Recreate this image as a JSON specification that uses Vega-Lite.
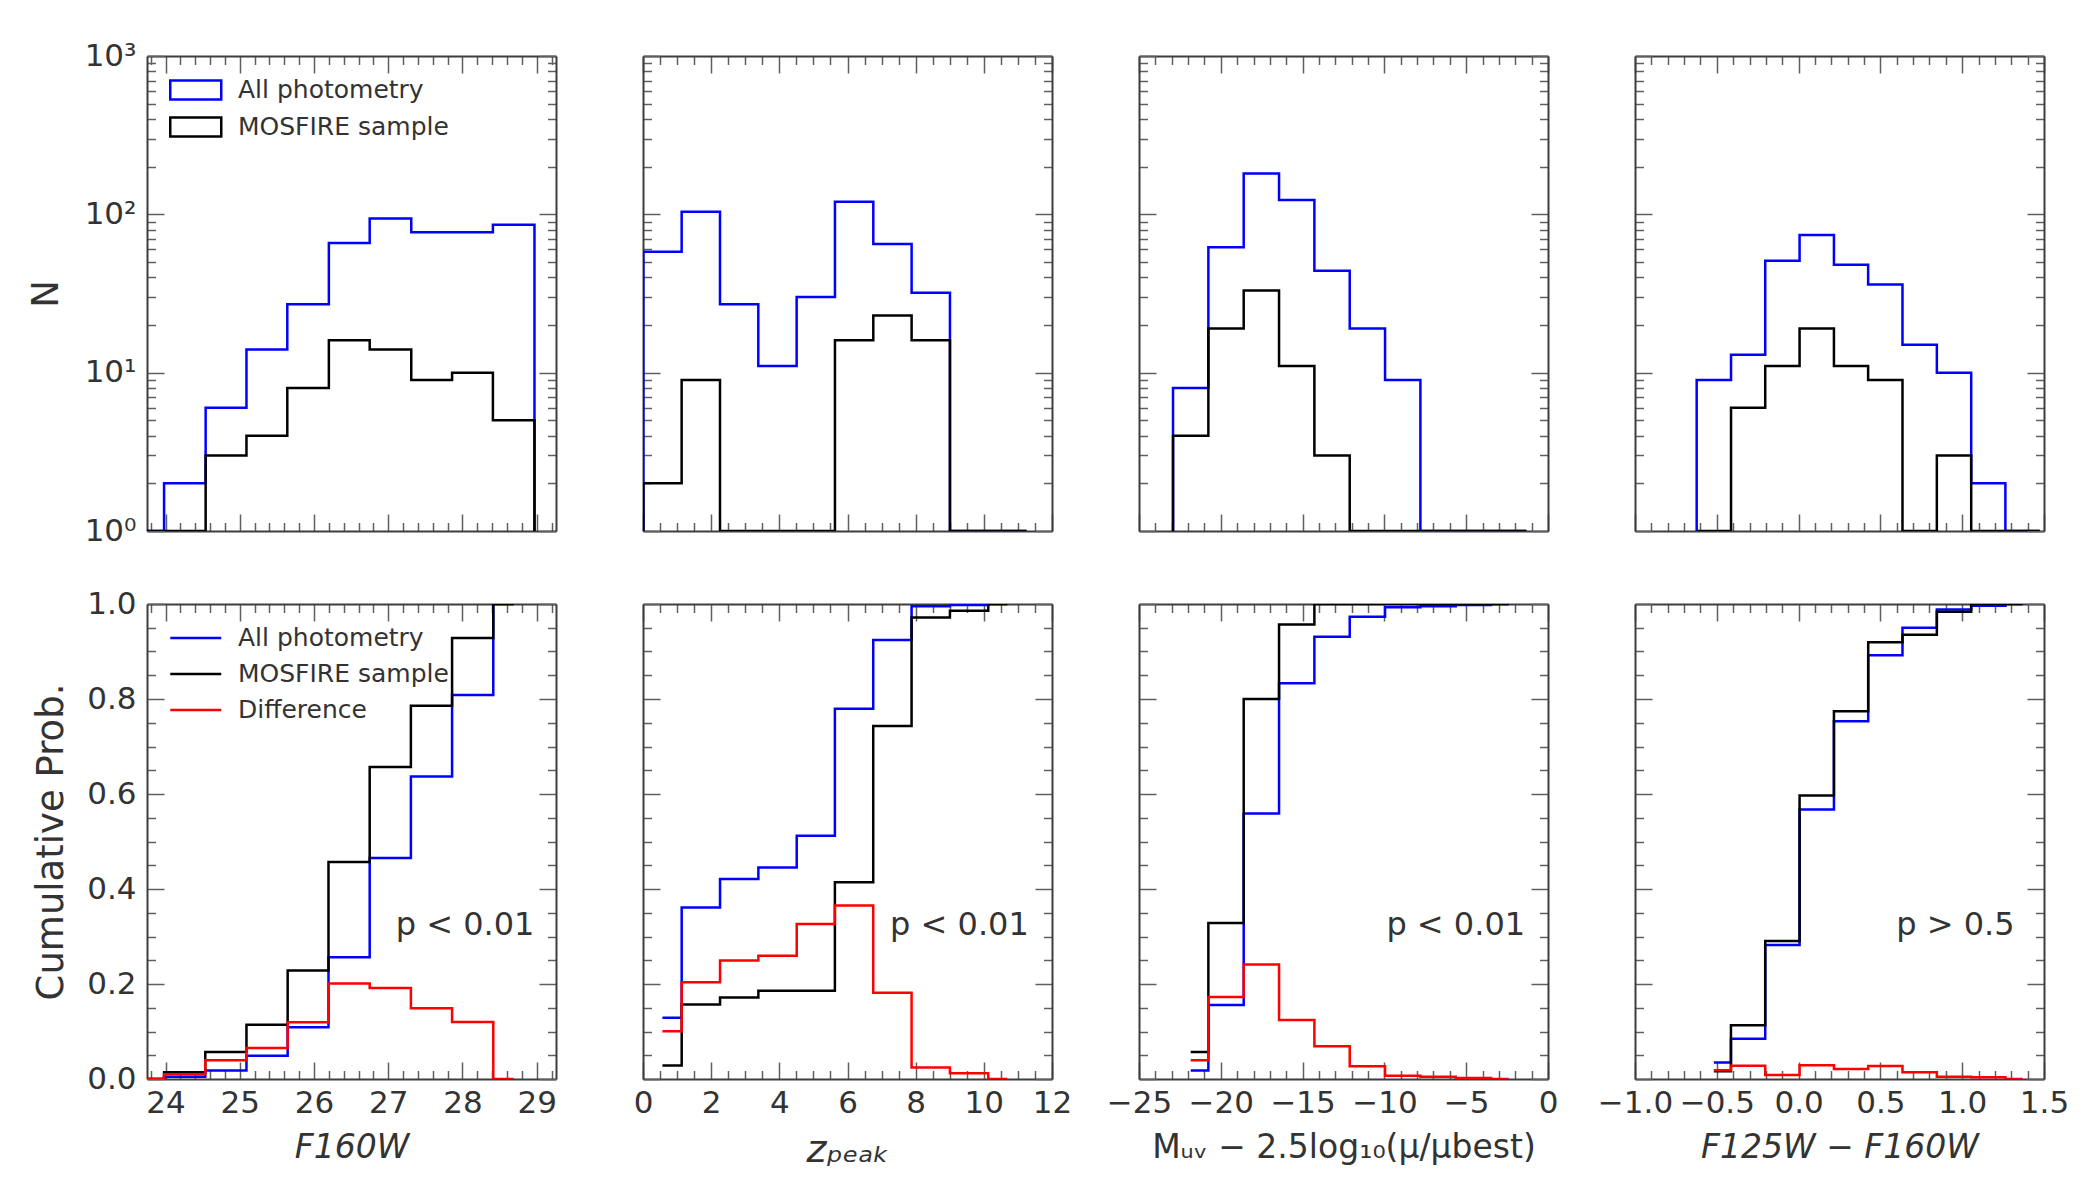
{
  "$schema": "https://vega.github.io/schema/vega-lite/v6.json",
  "background": "white",
  "padding": {"left": 27, "top": 40, "right": 5, "bottom": 5},
  "columns": 4,
  "spacing": {"row": 73, "column": 87},
  "bounds": "flush",
  "resolve": {"scale": {"color": "independent"}, "legend": {"color": "independent"}},
  "config": {
    "font": "DejaVu Sans",
    "view": {"stroke": null},
    "axis": {
      "zindex": 1,
      "grid": false,
      "domainColor": "#3d3d3d",
      "domainWidth": 2,
      "tickColor": "#5f5f5f",
      "tickWidth": 1.5,
      "labelFont": "DejaVu Sans",
      "labelFontSize": 31,
      "labelColor": "#333333",
      "labelFlush": false,
      "labelOverlap": false,
      "labelPadding": 26,
      "titleFont": "DejaVu Sans",
      "titleFontSize": 37,
      "titleColor": "#333333",
      "titleFontWeight": "normal"
    },
    "legend": {"labelFont": "DejaVu Sans", "labelFontSize": 25, "labelColor": "#333333", "labelLimit": 400}
  },
  "datasets": {
    "f160w_hist": [
      {"i": 0, "edge": 23.43, "all": 0, "mosfire": 0},
      {"i": 1, "edge": 23.43, "all": 0, "mosfire": 0},
      {"i": 2, "edge": 23.98, "all": 2, "mosfire": 1},
      {"i": 3, "edge": 24.54, "all": 6, "mosfire": 3},
      {"i": 4, "edge": 25.09, "all": 14, "mosfire": 4},
      {"i": 5, "edge": 25.64, "all": 27, "mosfire": 8},
      {"i": 6, "edge": 26.2, "all": 66, "mosfire": 16},
      {"i": 7, "edge": 26.75, "all": 94, "mosfire": 14},
      {"i": 8, "edge": 27.31, "all": 77, "mosfire": 9},
      {"i": 9, "edge": 27.86, "all": 77, "mosfire": 10},
      {"i": 10, "edge": 28.41, "all": 86, "mosfire": 5},
      {"i": 11, "edge": 28.97, "all": 0, "mosfire": 0}
    ],
    "f160w_cum": [
      {"x": 23.7, "all": 0, "mosfire": 0, "diff": 0},
      {"x": 24.26, "all": 0.0045, "mosfire": 0.0143, "diff": 0.0098},
      {"x": 24.81, "all": 0.0178, "mosfire": 0.0571, "diff": 0.0393},
      {"x": 25.37, "all": 0.049, "mosfire": 0.1143, "diff": 0.0653},
      {"x": 25.92, "all": 0.1091, "mosfire": 0.2286, "diff": 0.1195},
      {"x": 26.47, "all": 0.2561, "mosfire": 0.4571, "diff": 0.201},
      {"x": 27.03, "all": 0.4655, "mosfire": 0.6571, "diff": 0.1916},
      {"x": 27.58, "all": 0.637, "mosfire": 0.7857, "diff": 0.1487},
      {"x": 28.14, "all": 0.8085, "mosfire": 0.9286, "diff": 0.1201},
      {"x": 28.69, "all": 1.0, "mosfire": 1.0, "diff": 0}
    ],
    "zpeak_hist": [
      {"i": 0, "edge": 0.01, "all": 0, "mosfire": 0},
      {"i": 1, "edge": 0.01, "all": 58, "mosfire": 2},
      {"i": 2, "edge": 1.134, "all": 104, "mosfire": 9},
      {"i": 3, "edge": 2.259, "all": 27, "mosfire": 1},
      {"i": 4, "edge": 3.383, "all": 11, "mosfire": 1},
      {"i": 5, "edge": 4.508, "all": 30, "mosfire": 0},
      {"i": 6, "edge": 5.632, "all": 120, "mosfire": 16},
      {"i": 7, "edge": 6.757, "all": 65, "mosfire": 23},
      {"i": 8, "edge": 7.881, "all": 32, "mosfire": 16},
      {"i": 9, "edge": 9.006, "all": 1, "mosfire": 1},
      {"i": 10, "edge": 10.13, "all": 1, "mosfire": 1},
      {"i": 11, "edge": 11.255, "all": 0, "mosfire": 0}
    ],
    "zpeak_cum": [
      {"x": 0.57, "all": 0.1292, "mosfire": 0.0286, "diff": 0.1006},
      {"x": 1.7, "all": 0.3608, "mosfire": 0.1571, "diff": 0.2037},
      {"x": 2.82, "all": 0.4209, "mosfire": 0.1714, "diff": 0.2495},
      {"x": 3.95, "all": 0.4454, "mosfire": 0.1857, "diff": 0.2597},
      {"x": 5.07, "all": 0.5122, "mosfire": 0.1857, "diff": 0.3265},
      {"x": 6.19, "all": 0.7795, "mosfire": 0.4143, "diff": 0.3652},
      {"x": 7.32, "all": 0.9243, "mosfire": 0.7429, "diff": 0.1814},
      {"x": 8.44, "all": 0.9955, "mosfire": 0.9714, "diff": 0.0241},
      {"x": 9.57, "all": 0.9978, "mosfire": 0.9857, "diff": 0.0121},
      {"x": 10.69, "all": 1.0, "mosfire": 1.0, "diff": 0}
    ],
    "muv_hist": [
      {"i": 0, "edge": -22.92, "all": 0, "mosfire": 0},
      {"i": 1, "edge": -22.92, "all": 8, "mosfire": 4},
      {"i": 2, "edge": -20.76, "all": 62, "mosfire": 19},
      {"i": 3, "edge": -18.6, "all": 181, "mosfire": 33},
      {"i": 4, "edge": -16.44, "all": 123, "mosfire": 11},
      {"i": 5, "edge": -14.28, "all": 44, "mosfire": 3},
      {"i": 6, "edge": -12.12, "all": 19, "mosfire": 0},
      {"i": 7, "edge": -9.96, "all": 9, "mosfire": 0},
      {"i": 8, "edge": -7.8, "all": 1, "mosfire": 0},
      {"i": 9, "edge": -5.64, "all": 1, "mosfire": 0},
      {"i": 10, "edge": -3.48, "all": 1, "mosfire": 0},
      {"i": 11, "edge": -1.32, "all": 0, "mosfire": 0}
    ],
    "muv_cum": [
      {"x": -21.84, "all": 0.0178, "mosfire": 0.0571, "diff": 0.0393},
      {"x": -19.68, "all": 0.1559, "mosfire": 0.3286, "diff": 0.1727},
      {"x": -17.52, "all": 0.559, "mosfire": 0.8, "diff": 0.241},
      {"x": -15.36, "all": 0.833, "mosfire": 0.9571, "diff": 0.1241},
      {"x": -13.2, "all": 0.931, "mosfire": 1.0, "diff": 0.069},
      {"x": -11.04, "all": 0.9733, "mosfire": 1.0, "diff": 0.0267},
      {"x": -8.88, "all": 0.9933, "mosfire": 1.0, "diff": 0.0067},
      {"x": -6.72, "all": 0.9955, "mosfire": 1.0, "diff": 0.0045},
      {"x": -4.56, "all": 0.9978, "mosfire": 1.0, "diff": 0.0022},
      {"x": -2.4, "all": 1.0, "mosfire": 1.0, "diff": 0}
    ],
    "color_hist": [
      {"i": 0, "edge": -0.623, "all": 0, "mosfire": 0},
      {"i": 1, "edge": -0.623, "all": 9, "mosfire": 1},
      {"i": 2, "edge": -0.413, "all": 13, "mosfire": 6},
      {"i": 3, "edge": -0.204, "all": 51, "mosfire": 11},
      {"i": 4, "edge": 0.006, "all": 74, "mosfire": 19},
      {"i": 5, "edge": 0.216, "all": 48, "mosfire": 11},
      {"i": 6, "edge": 0.425, "all": 36, "mosfire": 9},
      {"i": 7, "edge": 0.635, "all": 15, "mosfire": 1},
      {"i": 8, "edge": 0.845, "all": 10, "mosfire": 3},
      {"i": 9, "edge": 1.055, "all": 2, "mosfire": 1},
      {"i": 10, "edge": 1.264, "all": 1, "mosfire": 0},
      {"i": 11, "edge": 1.474, "all": 0, "mosfire": 0}
    ],
    "color_cum": [
      {"x": -0.518, "all": 0.0347, "mosfire": 0.0161, "diff": 0.0186},
      {"x": -0.309, "all": 0.0849, "mosfire": 0.1129, "diff": 0.028},
      {"x": -0.099, "all": 0.2819, "mosfire": 0.2903, "diff": 0.0084},
      {"x": 0.111, "all": 0.5676, "mosfire": 0.5968, "diff": 0.0292},
      {"x": 0.321, "all": 0.7529, "mosfire": 0.7742, "diff": 0.0213},
      {"x": 0.53, "all": 0.8919, "mosfire": 0.9194, "diff": 0.0275},
      {"x": 0.74, "all": 0.9498, "mosfire": 0.9355, "diff": 0.0143},
      {"x": 0.95, "all": 0.9884, "mosfire": 0.9839, "diff": 0.0045},
      {"x": 1.16, "all": 0.9961, "mosfire": 1.0, "diff": 0.0039},
      {"x": 1.369, "all": 1.0, "mosfire": 1.0, "diff": 0}
    ]
  },
  "concat": [
    {
      "width": 409, "height": 475,
      "data": {"name": "f160w_hist"},
      "transform": [{"fold": ["all", "mosfire"], "as": ["sample", "n"]}],
      "resolve": {"axis": {"x": "independent", "y": "independent"}},
      "layer": [
        {
          "transform": [{"filter": "datum.sample == 'all'"}],
          "mark": {"type": "line", "interpolate": "step-after", "clip": true, "strokeWidth": 2.5, "invalid": "show"},
          "encoding": {
            "x": {"field": "edge", "type": "quantitative", "scale": {"domain": [23.75, 29.26], "nice": false, "zero": false},
              "axis": {"orient": "bottom", "labels": false, "title": null, "values": [23.8,24,24.2,24.4,24.6,24.8,25,25.2,25.4,25.6,25.8,26,26.2,26.4,26.6,26.8,27,27.2,27.4,27.6,27.8,28,28.2,28.4,28.6,28.8,29,29.2],
                "tickSize": {"condition": {"test": "abs(datum.value - round(datum.value)) < 0.001", "value": -17}, "value": -8.5}}},
            "y": {"field": "n", "type": "quantitative", "scale": {"type": "log", "domain": [1, 1000], "nice": false, "clamp": true},
              "axis": {"orient": "left", "title": "N", "titlePadding": 19, "labelPadding": 28, "values": [1,2,3,4,5,6,7,8,9,10,20,30,40,50,60,70,80,90,100,200,300,400,500,600,700,800,900,1000],
                "labelExpr": "datum.value == 1 ? '10⁰' : datum.value == 10 ? '10¹' : datum.value == 100 ? '10²' : datum.value == 1000 ? '10³' : ''",
                "tickSize": {"condition": {"test": "datum.value == 1 || datum.value == 10 || datum.value == 100 || datum.value == 1000", "value": -17}, "value": -8.5}}},
            "color": {"field": "sample", "type": "nominal", "scale": {"domain": ["all", "mosfire"], "range": ["#0000ff", "#000000"]},
              "legend": {"orient": "top-left", "offset": 20, "padding": 0, "title": null,
                "labelExpr": "datum.value == 'all' ? 'All photometry' : 'MOSFIRE sample'",
                "symbolType": "M-0.843,-0.745H3.157V0.745H-0.843Z", "symbolSize": 650, "symbolStrokeWidth": 2.5,
                "symbolFillColor": "transparent", "labelOffset": 43, "rowPadding": 7}},
            "order": {"field": "i", "type": "quantitative"}
          }
        },
        {
          "transform": [{"filter": "datum.sample == 'mosfire'"}],
          "mark": {"type": "line", "interpolate": "step-after", "clip": true, "strokeWidth": 2.5, "invalid": "show"},
          "encoding": {
            "x": {"field": "edge", "type": "quantitative", "scale": {"domain": [23.75, 29.26], "nice": false, "zero": false},
              "axis": {"orient": "top", "labels": false, "title": null, "values": [23.8,24,24.2,24.4,24.6,24.8,25,25.2,25.4,25.6,25.8,26,26.2,26.4,26.6,26.8,27,27.2,27.4,27.6,27.8,28,28.2,28.4,28.6,28.8,29,29.2],
                "tickSize": {"condition": {"test": "abs(datum.value - round(datum.value)) < 0.001", "value": -17}, "value": -8.5}}},
            "y": {"field": "n", "type": "quantitative", "scale": {"type": "log", "domain": [1, 1000], "nice": false, "clamp": true},
              "axis": {"orient": "right", "labels": false, "title": null, "values": [1,2,3,4,5,6,7,8,9,10,20,30,40,50,60,70,80,90,100,200,300,400,500,600,700,800,900,1000],
                "tickSize": {"condition": {"test": "datum.value == 1 || datum.value == 10 || datum.value == 100 || datum.value == 1000", "value": -17}, "value": -8.5}}},
            "color": {"field": "sample", "type": "nominal"},
            "order": {"field": "i", "type": "quantitative"}
          }
        }
      ]
    },
    {
      "width": 409, "height": 475,
      "data": {"name": "zpeak_hist"},
      "transform": [{"fold": ["all", "mosfire"], "as": ["sample", "n"]}],
      "resolve": {"axis": {"x": "independent", "y": "independent"}},
      "layer": [
        {
          "transform": [{"filter": "datum.sample == 'all'"}],
          "mark": {"type": "line", "interpolate": "step-after", "clip": true, "strokeWidth": 2.5, "invalid": "show"},
          "encoding": {
            "x": {"field": "edge", "type": "quantitative", "scale": {"domain": [0, 12], "nice": false, "zero": false},
              "axis": {"orient": "bottom", "labels": false, "title": null, "values": [0,0.5,1,1.5,2,2.5,3,3.5,4,4.5,5,5.5,6,6.5,7,7.5,8,8.5,9,9.5,10,10.5,11,11.5,12],
                "tickSize": {"condition": {"test": "abs(datum.value/2 - round(datum.value/2)) < 0.001", "value": -17}, "value": -8.5}}},
            "y": {"field": "n", "type": "quantitative", "scale": {"type": "log", "domain": [1, 1000], "nice": false, "clamp": true},
              "axis": {"orient": "left", "labels": false, "title": null, "values": [1,2,3,4,5,6,7,8,9,10,20,30,40,50,60,70,80,90,100,200,300,400,500,600,700,800,900,1000],
                "tickSize": {"condition": {"test": "datum.value == 1 || datum.value == 10 || datum.value == 100 || datum.value == 1000", "value": -17}, "value": -8.5}}},
            "color": {"field": "sample", "type": "nominal", "scale": {"domain": ["all", "mosfire"], "range": ["#0000ff", "#000000"]}, "legend": null},
            "order": {"field": "i", "type": "quantitative"}
          }
        },
        {
          "transform": [{"filter": "datum.sample == 'mosfire'"}],
          "mark": {"type": "line", "interpolate": "step-after", "clip": true, "strokeWidth": 2.5, "invalid": "show"},
          "encoding": {
            "x": {"field": "edge", "type": "quantitative", "scale": {"domain": [0, 12], "nice": false, "zero": false},
              "axis": {"orient": "top", "labels": false, "title": null, "values": [0,0.5,1,1.5,2,2.5,3,3.5,4,4.5,5,5.5,6,6.5,7,7.5,8,8.5,9,9.5,10,10.5,11,11.5,12],
                "tickSize": {"condition": {"test": "abs(datum.value/2 - round(datum.value/2)) < 0.001", "value": -17}, "value": -8.5}}},
            "y": {"field": "n", "type": "quantitative", "scale": {"type": "log", "domain": [1, 1000], "nice": false, "clamp": true},
              "axis": {"orient": "right", "labels": false, "title": null, "values": [1,2,3,4,5,6,7,8,9,10,20,30,40,50,60,70,80,90,100,200,300,400,500,600,700,800,900,1000],
                "tickSize": {"condition": {"test": "datum.value == 1 || datum.value == 10 || datum.value == 100 || datum.value == 1000", "value": -17}, "value": -8.5}}},
            "color": {"field": "sample", "type": "nominal", "legend": null},
            "order": {"field": "i", "type": "quantitative"}
          }
        }
      ]
    },
    {
      "width": 409, "height": 475,
      "data": {"name": "muv_hist"},
      "transform": [{"fold": ["all", "mosfire"], "as": ["sample", "n"]}],
      "resolve": {"axis": {"x": "independent", "y": "independent"}},
      "layer": [
        {
          "transform": [{"filter": "datum.sample == 'all'"}],
          "mark": {"type": "line", "interpolate": "step-after", "clip": true, "strokeWidth": 2.5, "invalid": "show"},
          "encoding": {
            "x": {"field": "edge", "type": "quantitative", "scale": {"domain": [-25, 0], "nice": false, "zero": false},
              "axis": {"orient": "bottom", "labels": false, "title": null, "values": [-25,-24,-23,-22,-21,-20,-19,-18,-17,-16,-15,-14,-13,-12,-11,-10,-9,-8,-7,-6,-5,-4,-3,-2,-1,0],
                "tickSize": {"condition": {"test": "abs(datum.value/5 - round(datum.value/5)) < 0.001", "value": -17}, "value": -8.5}}},
            "y": {"field": "n", "type": "quantitative", "scale": {"type": "log", "domain": [1, 1000], "nice": false, "clamp": true},
              "axis": {"orient": "left", "labels": false, "title": null, "values": [1,2,3,4,5,6,7,8,9,10,20,30,40,50,60,70,80,90,100,200,300,400,500,600,700,800,900,1000],
                "tickSize": {"condition": {"test": "datum.value == 1 || datum.value == 10 || datum.value == 100 || datum.value == 1000", "value": -17}, "value": -8.5}}},
            "color": {"field": "sample", "type": "nominal", "scale": {"domain": ["all", "mosfire"], "range": ["#0000ff", "#000000"]}, "legend": null},
            "order": {"field": "i", "type": "quantitative"}
          }
        },
        {
          "transform": [{"filter": "datum.sample == 'mosfire'"}],
          "mark": {"type": "line", "interpolate": "step-after", "clip": true, "strokeWidth": 2.5, "invalid": "show"},
          "encoding": {
            "x": {"field": "edge", "type": "quantitative", "scale": {"domain": [-25, 0], "nice": false, "zero": false},
              "axis": {"orient": "top", "labels": false, "title": null, "values": [-25,-24,-23,-22,-21,-20,-19,-18,-17,-16,-15,-14,-13,-12,-11,-10,-9,-8,-7,-6,-5,-4,-3,-2,-1,0],
                "tickSize": {"condition": {"test": "abs(datum.value/5 - round(datum.value/5)) < 0.001", "value": -17}, "value": -8.5}}},
            "y": {"field": "n", "type": "quantitative", "scale": {"type": "log", "domain": [1, 1000], "nice": false, "clamp": true},
              "axis": {"orient": "right", "labels": false, "title": null, "values": [1,2,3,4,5,6,7,8,9,10,20,30,40,50,60,70,80,90,100,200,300,400,500,600,700,800,900,1000],
                "tickSize": {"condition": {"test": "datum.value == 1 || datum.value == 10 || datum.value == 100 || datum.value == 1000", "value": -17}, "value": -8.5}}},
            "color": {"field": "sample", "type": "nominal", "legend": null},
            "order": {"field": "i", "type": "quantitative"}
          }
        }
      ]
    },
    {
      "width": 409, "height": 475,
      "data": {"name": "color_hist"},
      "transform": [{"fold": ["all", "mosfire"], "as": ["sample", "n"]}],
      "resolve": {"axis": {"x": "independent", "y": "independent"}},
      "layer": [
        {
          "transform": [{"filter": "datum.sample == 'all'"}],
          "mark": {"type": "line", "interpolate": "step-after", "clip": true, "strokeWidth": 2.5, "invalid": "show"},
          "encoding": {
            "x": {"field": "edge", "type": "quantitative", "scale": {"domain": [-1, 1.5], "nice": false, "zero": false},
              "axis": {"orient": "bottom", "labels": false, "title": null, "values": [-1,-0.9,-0.8,-0.7,-0.6,-0.5,-0.4,-0.3,-0.2,-0.1,0,0.1,0.2,0.3,0.4,0.5,0.6,0.7,0.8,0.9,1,1.1,1.2,1.3,1.4,1.5],
                "tickSize": {"condition": {"test": "abs(datum.value*2 - round(datum.value*2)) < 0.001", "value": -17}, "value": -8.5}}},
            "y": {"field": "n", "type": "quantitative", "scale": {"type": "log", "domain": [1, 1000], "nice": false, "clamp": true},
              "axis": {"orient": "left", "labels": false, "title": null, "values": [1,2,3,4,5,6,7,8,9,10,20,30,40,50,60,70,80,90,100,200,300,400,500,600,700,800,900,1000],
                "tickSize": {"condition": {"test": "datum.value == 1 || datum.value == 10 || datum.value == 100 || datum.value == 1000", "value": -17}, "value": -8.5}}},
            "color": {"field": "sample", "type": "nominal", "scale": {"domain": ["all", "mosfire"], "range": ["#0000ff", "#000000"]}, "legend": null},
            "order": {"field": "i", "type": "quantitative"}
          }
        },
        {
          "transform": [{"filter": "datum.sample == 'mosfire'"}],
          "mark": {"type": "line", "interpolate": "step-after", "clip": true, "strokeWidth": 2.5, "invalid": "show"},
          "encoding": {
            "x": {"field": "edge", "type": "quantitative", "scale": {"domain": [-1, 1.5], "nice": false, "zero": false},
              "axis": {"orient": "top", "labels": false, "title": null, "values": [-1,-0.9,-0.8,-0.7,-0.6,-0.5,-0.4,-0.3,-0.2,-0.1,0,0.1,0.2,0.3,0.4,0.5,0.6,0.7,0.8,0.9,1,1.1,1.2,1.3,1.4,1.5],
                "tickSize": {"condition": {"test": "abs(datum.value*2 - round(datum.value*2)) < 0.001", "value": -17}, "value": -8.5}}},
            "y": {"field": "n", "type": "quantitative", "scale": {"type": "log", "domain": [1, 1000], "nice": false, "clamp": true},
              "axis": {"orient": "right", "labels": false, "title": null, "values": [1,2,3,4,5,6,7,8,9,10,20,30,40,50,60,70,80,90,100,200,300,400,500,600,700,800,900,1000],
                "tickSize": {"condition": {"test": "datum.value == 1 || datum.value == 10 || datum.value == 100 || datum.value == 1000", "value": -17}, "value": -8.5}}},
            "color": {"field": "sample", "type": "nominal", "legend": null},
            "order": {"field": "i", "type": "quantitative"}
          }
        }
      ]
    },
    {
      "width": 409, "height": 475,
      "resolve": {"axis": {"x": "independent", "y": "independent"}},
      "layer": [
        {
          "data": {"name": "f160w_cum"},
          "transform": [{"fold": ["all", "mosfire", "diff"], "as": ["sample", "p"]}],
          "mark": {"type": "line", "interpolate": "step", "clip": true, "strokeWidth": 2.5},
          "encoding": {
            "x": {"field": "x", "type": "quantitative", "scale": {"domain": [23.75, 29.26], "nice": false, "zero": false},
              "axis": {"orient": "bottom", "title": "F160W", "titleFontStyle": "italic", "titleFontSize": 33, "titlePadding": 5, "values": [23.8,24,24.2,24.4,24.6,24.8,25,25.2,25.4,25.6,25.8,26,26.2,26.4,26.6,26.8,27,27.2,27.4,27.6,27.8,28,28.2,28.4,28.6,28.8,29,29.2],
                "labelExpr": "abs(datum.value - round(datum.value)) < 0.001 ? format(datum.value, 'd') : ''",
                "tickSize": {"condition": {"test": "abs(datum.value - round(datum.value)) < 0.001", "value": -17}, "value": -8.5}}},
            "y": {"field": "p", "type": "quantitative", "scale": {"domain": [0, 1], "nice": false},
              "axis": {"orient": "left", "title": "Cumulative Prob.", "titlePadding": 16, "labelPadding": 28, "values": [0,0.05,0.1,0.15,0.2,0.25,0.3,0.35,0.4,0.45,0.5,0.55,0.6,0.65,0.7,0.75,0.8,0.85,0.9,0.95,1],
                "labelExpr": "abs(datum.value*5 - round(datum.value*5)) < 0.001 ? format(datum.value, '.1f') : ''",
                "tickSize": {"condition": {"test": "abs(datum.value*5 - round(datum.value*5)) < 0.001", "value": -17}, "value": -8.5}}},
            "color": {"field": "sample", "type": "nominal", "scale": {"domain": ["all", "mosfire", "diff"], "range": ["#0000ff", "#000000", "#ff0000"]},
              "legend": {"orient": "top-left", "offset": 20, "padding": 0, "title": null,
                "labelExpr": "datum.value == 'all' ? 'All photometry' : datum.value == 'mosfire' ? 'MOSFIRE sample' : 'Difference'",
                "symbolType": "M-0.843,0H3.157", "symbolSize": 650, "symbolStrokeWidth": 2.5,
                "symbolFillColor": "transparent", "labelOffset": 43, "rowPadding": 9}}
          }
        },
        {
          "data": {"values": [{"note": "p < 0.01"}]},
          "mark": {"type": "text", "align": "right", "baseline": "middle", "fontSize": 32, "color": "#333333", "font": "DejaVu Sans"},
          "encoding": {
            "text": {"field": "note"},
            "x": {"datum": 28.97, "type": "quantitative", "scale": {"domain": [23.75, 29.26], "nice": false, "zero": false},
              "axis": {"orient": "top", "labels": false, "title": null, "values": [23.8,24,24.2,24.4,24.6,24.8,25,25.2,25.4,25.6,25.8,26,26.2,26.4,26.6,26.8,27,27.2,27.4,27.6,27.8,28,28.2,28.4,28.6,28.8,29,29.2],
                "tickSize": {"condition": {"test": "abs(datum.value - round(datum.value)) < 0.001", "value": -17}, "value": -8.5}}},
            "y": {"datum": 0.325, "type": "quantitative", "scale": {"domain": [0, 1], "nice": false},
              "axis": {"orient": "right", "labels": false, "title": null, "values": [0,0.05,0.1,0.15,0.2,0.25,0.3,0.35,0.4,0.45,0.5,0.55,0.6,0.65,0.7,0.75,0.8,0.85,0.9,0.95,1],
                "tickSize": {"condition": {"test": "abs(datum.value*5 - round(datum.value*5)) < 0.001", "value": -17}, "value": -8.5}}}
          }
        }
      ]
    },
    {
      "width": 409, "height": 475,
      "resolve": {"axis": {"x": "independent", "y": "independent"}},
      "layer": [
        {
          "data": {"name": "zpeak_cum"},
          "transform": [{"fold": ["all", "mosfire", "diff"], "as": ["sample", "p"]}],
          "mark": {"type": "line", "interpolate": "step", "clip": true, "strokeWidth": 2.5},
          "encoding": {
            "x": {"field": "x", "type": "quantitative", "scale": {"domain": [0, 12], "nice": false, "zero": false},
              "axis": {"orient": "bottom", "title": "zₚₑₐₖ", "titleFontStyle": "italic", "titleFontSize": 38, "titlePadding": 5, "values": [0,0.5,1,1.5,2,2.5,3,3.5,4,4.5,5,5.5,6,6.5,7,7.5,8,8.5,9,9.5,10,10.5,11,11.5,12],
                "labelExpr": "abs(datum.value/2 - round(datum.value/2)) < 0.001 ? format(datum.value, 'd') : ''",
                "tickSize": {"condition": {"test": "abs(datum.value/2 - round(datum.value/2)) < 0.001", "value": -17}, "value": -8.5}}},
            "y": {"field": "p", "type": "quantitative", "scale": {"domain": [0, 1], "nice": false},
              "axis": {"orient": "left", "labels": false, "title": null, "values": [0,0.05,0.1,0.15,0.2,0.25,0.3,0.35,0.4,0.45,0.5,0.55,0.6,0.65,0.7,0.75,0.8,0.85,0.9,0.95,1],
                "tickSize": {"condition": {"test": "abs(datum.value*5 - round(datum.value*5)) < 0.001", "value": -17}, "value": -8.5}}},
            "color": {"field": "sample", "type": "nominal", "scale": {"domain": ["all", "mosfire", "diff"], "range": ["#0000ff", "#000000", "#ff0000"]}, "legend": null}
          }
        },
        {
          "data": {"values": [{"note": "p < 0.01"}]},
          "mark": {"type": "text", "align": "right", "baseline": "middle", "fontSize": 32, "color": "#333333", "font": "DejaVu Sans"},
          "encoding": {
            "text": {"field": "note"},
            "x": {"datum": 11.32, "type": "quantitative", "scale": {"domain": [0, 12], "nice": false, "zero": false},
              "axis": {"orient": "top", "labels": false, "title": null, "values": [0,0.5,1,1.5,2,2.5,3,3.5,4,4.5,5,5.5,6,6.5,7,7.5,8,8.5,9,9.5,10,10.5,11,11.5,12],
                "tickSize": {"condition": {"test": "abs(datum.value/2 - round(datum.value/2)) < 0.001", "value": -17}, "value": -8.5}}},
            "y": {"datum": 0.325, "type": "quantitative", "scale": {"domain": [0, 1], "nice": false},
              "axis": {"orient": "right", "labels": false, "title": null, "values": [0,0.05,0.1,0.15,0.2,0.25,0.3,0.35,0.4,0.45,0.5,0.55,0.6,0.65,0.7,0.75,0.8,0.85,0.9,0.95,1],
                "tickSize": {"condition": {"test": "abs(datum.value*5 - round(datum.value*5)) < 0.001", "value": -17}, "value": -8.5}}}
          }
        }
      ]
    },
    {
      "width": 409, "height": 475,
      "resolve": {"axis": {"x": "independent", "y": "independent"}},
      "layer": [
        {
          "data": {"name": "muv_cum"},
          "transform": [{"fold": ["all", "mosfire", "diff"], "as": ["sample", "p"]}],
          "mark": {"type": "line", "interpolate": "step", "clip": true, "strokeWidth": 2.5},
          "encoding": {
            "x": {"field": "x", "type": "quantitative", "scale": {"domain": [-25, 0], "nice": false, "zero": false},
              "axis": {"orient": "bottom", "title": "Mᵤᵥ − 2.5log₁₀(μ/μbest)", "titleFontSize": 33, "titlePadding": 5, "values": [-25,-24,-23,-22,-21,-20,-19,-18,-17,-16,-15,-14,-13,-12,-11,-10,-9,-8,-7,-6,-5,-4,-3,-2,-1,0],
                "labelExpr": "abs(datum.value/5 - round(datum.value/5)) < 0.001 ? format(datum.value, 'd') : ''",
                "tickSize": {"condition": {"test": "abs(datum.value/5 - round(datum.value/5)) < 0.001", "value": -17}, "value": -8.5}}},
            "y": {"field": "p", "type": "quantitative", "scale": {"domain": [0, 1], "nice": false},
              "axis": {"orient": "left", "labels": false, "title": null, "values": [0,0.05,0.1,0.15,0.2,0.25,0.3,0.35,0.4,0.45,0.5,0.55,0.6,0.65,0.7,0.75,0.8,0.85,0.9,0.95,1],
                "tickSize": {"condition": {"test": "abs(datum.value*5 - round(datum.value*5)) < 0.001", "value": -17}, "value": -8.5}}},
            "color": {"field": "sample", "type": "nominal", "scale": {"domain": ["all", "mosfire", "diff"], "range": ["#0000ff", "#000000", "#ff0000"]}, "legend": null}
          }
        },
        {
          "data": {"values": [{"note": "p < 0.01"}]},
          "mark": {"type": "text", "align": "right", "baseline": "middle", "fontSize": 32, "color": "#333333", "font": "DejaVu Sans"},
          "encoding": {
            "text": {"field": "note"},
            "x": {"datum": -1.4, "type": "quantitative", "scale": {"domain": [-25, 0], "nice": false, "zero": false},
              "axis": {"orient": "top", "labels": false, "title": null, "values": [-25,-24,-23,-22,-21,-20,-19,-18,-17,-16,-15,-14,-13,-12,-11,-10,-9,-8,-7,-6,-5,-4,-3,-2,-1,0],
                "tickSize": {"condition": {"test": "abs(datum.value/5 - round(datum.value/5)) < 0.001", "value": -17}, "value": -8.5}}},
            "y": {"datum": 0.325, "type": "quantitative", "scale": {"domain": [0, 1], "nice": false},
              "axis": {"orient": "right", "labels": false, "title": null, "values": [0,0.05,0.1,0.15,0.2,0.25,0.3,0.35,0.4,0.45,0.5,0.55,0.6,0.65,0.7,0.75,0.8,0.85,0.9,0.95,1],
                "tickSize": {"condition": {"test": "abs(datum.value*5 - round(datum.value*5)) < 0.001", "value": -17}, "value": -8.5}}}
          }
        }
      ]
    },
    {
      "width": 409, "height": 475,
      "resolve": {"axis": {"x": "independent", "y": "independent"}},
      "layer": [
        {
          "data": {"name": "color_cum"},
          "transform": [{"fold": ["all", "mosfire", "diff"], "as": ["sample", "p"]}],
          "mark": {"type": "line", "interpolate": "step", "clip": true, "strokeWidth": 2.5},
          "encoding": {
            "x": {"field": "x", "type": "quantitative", "scale": {"domain": [-1, 1.5], "nice": false, "zero": false},
              "axis": {"orient": "bottom", "title": "F125W − F160W", "titleFontStyle": "italic", "titleFontSize": 33, "titlePadding": 5, "values": [-1,-0.9,-0.8,-0.7,-0.6,-0.5,-0.4,-0.3,-0.2,-0.1,0,0.1,0.2,0.3,0.4,0.5,0.6,0.7,0.8,0.9,1,1.1,1.2,1.3,1.4,1.5],
                "labelExpr": "abs(datum.value*2 - round(datum.value*2)) < 0.001 ? format(datum.value, '.1f') : ''",
                "tickSize": {"condition": {"test": "abs(datum.value*2 - round(datum.value*2)) < 0.001", "value": -17}, "value": -8.5}}},
            "y": {"field": "p", "type": "quantitative", "scale": {"domain": [0, 1], "nice": false},
              "axis": {"orient": "left", "labels": false, "title": null, "values": [0,0.05,0.1,0.15,0.2,0.25,0.3,0.35,0.4,0.45,0.5,0.55,0.6,0.65,0.7,0.75,0.8,0.85,0.9,0.95,1],
                "tickSize": {"condition": {"test": "abs(datum.value*5 - round(datum.value*5)) < 0.001", "value": -17}, "value": -8.5}}},
            "color": {"field": "sample", "type": "nominal", "scale": {"domain": ["all", "mosfire", "diff"], "range": ["#0000ff", "#000000", "#ff0000"]}, "legend": null}
          }
        },
        {
          "data": {"values": [{"note": "p > 0.5"}]},
          "mark": {"type": "text", "align": "right", "baseline": "middle", "fontSize": 32, "color": "#333333", "font": "DejaVu Sans"},
          "encoding": {
            "text": {"field": "note"},
            "x": {"datum": 1.32, "type": "quantitative", "scale": {"domain": [-1, 1.5], "nice": false, "zero": false},
              "axis": {"orient": "top", "labels": false, "title": null, "values": [-1,-0.9,-0.8,-0.7,-0.6,-0.5,-0.4,-0.3,-0.2,-0.1,0,0.1,0.2,0.3,0.4,0.5,0.6,0.7,0.8,0.9,1,1.1,1.2,1.3,1.4,1.5],
                "tickSize": {"condition": {"test": "abs(datum.value*2 - round(datum.value*2)) < 0.001", "value": -17}, "value": -8.5}}},
            "y": {"datum": 0.325, "type": "quantitative", "scale": {"domain": [0, 1], "nice": false},
              "axis": {"orient": "right", "labels": false, "title": null, "values": [0,0.05,0.1,0.15,0.2,0.25,0.3,0.35,0.4,0.45,0.5,0.55,0.6,0.65,0.7,0.75,0.8,0.85,0.9,0.95,1],
                "tickSize": {"condition": {"test": "abs(datum.value*5 - round(datum.value*5)) < 0.001", "value": -17}, "value": -8.5}}}
          }
        }
      ]
    }
  ]
}
